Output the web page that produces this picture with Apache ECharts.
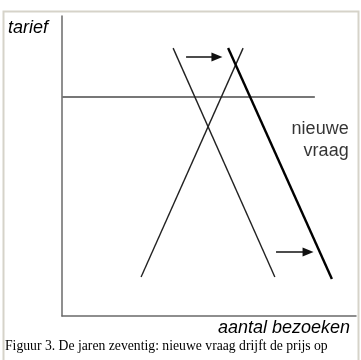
<!DOCTYPE html>
<html>
<head>
<meta charset="utf-8">
<script src="https://cdn.jsdelivr.net/npm/echarts@6/dist/echarts.min.js"></script>
<style>
  html, body { margin: 0; padding: 0; background: #fff; }
  #main { width: 361px; height: 360px; }
</style>
</head>
<body>
<div id="main"></div>
<script>
// schematic values on a 0-100 scale (quantity, price)
var aanbod = [[26.9, 13], [61.6, 89.3]];
var vraag = [[37.8, 89.3], [72.4, 13]];
var nieuweVraag = [[56.5, 89.3], [91.8, 12.3]];
var prijs = [[0, 73], [86, 73]];
var pijlBoven = [[42.2, 86.3], [52.7, 86.3]];
var pijlOnder = [[72.8, 21.3], [83.7, 21.3]];
var labelPunt = [[97.5, 58.8]];
var labelTekst = 'nieuwe\nvraag';

var myChart = echarts.init(document.getElementById('main'));

function arrow(pts) {
  return {
    type: 'line',
    data: [],
    markLine: {
      silent: true,
      symbol: ['none', 'triangle'],
      symbolSize: [9, 11],
      lineStyle: { color: '#111', width: 1.5, type: 'solid' },
      label: { show: false },
      data: [[{ coord: pts[0] }, { coord: pts[1] }]]
    }
  };
}

var option = {
  animation: false,
  backgroundColor: '#fff',
  grid: { left: 62, top: 16, right: 5, bottom: 44 },
  xAxis: {
    type: 'value', min: 0, max: 100,
    axisLine: { show: true, lineStyle: { color: '#6a6a6a', width: 1.5 } },
    axisTick: { show: false }, axisLabel: { show: false }, splitLine: { show: false }
  },
  yAxis: {
    type: 'value', min: 0, max: 100,
    axisLine: { show: true, lineStyle: { color: '#6a6a6a', width: 1.5 } },
    axisTick: { show: false }, axisLabel: { show: false }, splitLine: { show: false }
  },
  series: [
    { type: 'line', data: prijs, symbol: 'none', lineStyle: { color: '#777', width: 1.8 } },
    { type: 'line', data: aanbod, symbol: 'none', lineStyle: { color: '#222', width: 1.4 } },
    { type: 'line', data: vraag, symbol: 'none', lineStyle: { color: '#222', width: 1.4 } },
    { type: 'line', data: nieuweVraag, symbol: 'none', lineStyle: { color: '#000', width: 2.4 } },
    arrow(pijlBoven),
    arrow(pijlOnder),
    {
      type: 'scatter', data: labelPunt, symbolSize: 0,
      label: {
        show: true, position: 'inside', formatter: labelTekst,
        align: 'right', verticalAlign: 'middle',
        fontFamily: 'Liberation Sans', fontSize: 18, lineHeight: 22, color: '#000'
      }
    }
  ],
  graphic: [
    { type: 'rect', shape: { x: 3.5, y: 11.5, width: 355, height: 360 },
      style: { fill: 'none', stroke: '#d6d3c9', lineWidth: 2 }, z: -1 },
    { type: 'text', left: 8, top: 19,
      style: { text: 'tarief', font: 'italic 18px "Liberation Sans"', fill: '#000' } },
    { type: 'text', left: 218, top: 319,
      style: { text: 'aantal bezoeken', font: 'italic 18px "Liberation Sans"', fill: '#000' } },
    { type: 'text', left: 5, top: 339,
      style: { text: 'Figuur 3. De jaren zeventig: nieuwe vraag drijft de prijs op', font: '13.7px "Liberation Serif"', fill: '#000' } }
  ]
};
myChart.setOption(option);
</script>
</body>
</html>
